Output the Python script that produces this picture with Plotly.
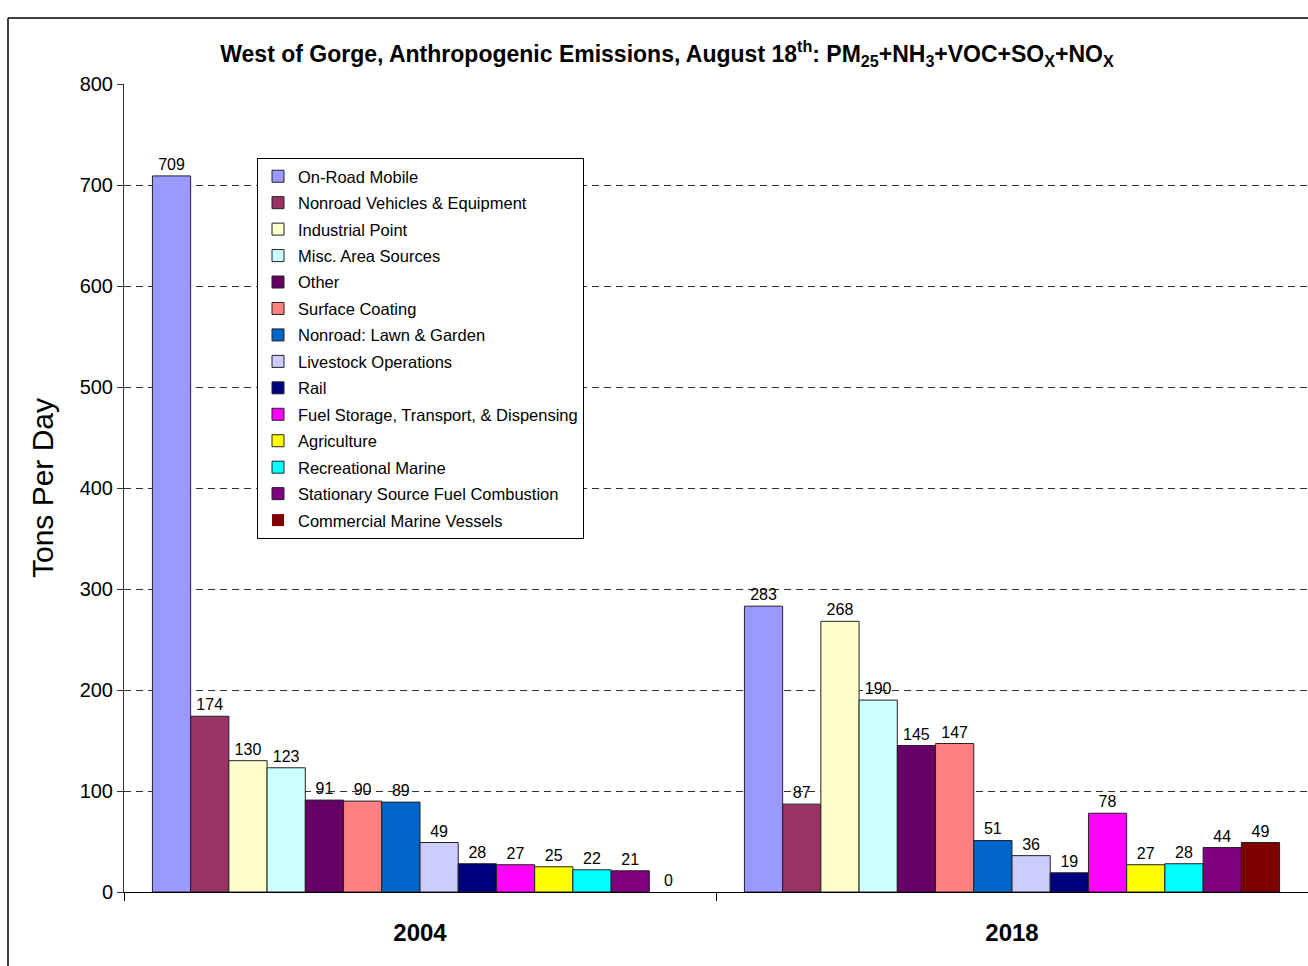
import plotly.graph_objects as go

years = ["2004", "2018"]
sources = [
    "On-Road Mobile", "Nonroad Vehicles & Equipment", "Industrial Point",
    "Misc. Area Sources", "Other", "Surface Coating", "Nonroad: Lawn & Garden",
    "Livestock Operations", "Rail", "Fuel Storage, Transport, & Dispensing",
    "Agriculture", "Recreational Marine", "Stationary Source Fuel Combustion",
    "Commercial Marine Vessels",
]
values_2004 = [709, 174, 130, 123, 91, 90, 89, 49, 28, 27, 25, 22, 21, 0]
values_2018 = [283, 87, 268, 190, 145, 147, 51, 36, 19, 78, 27, 28, 44, 49]
colors = [
    "#9999FF", "#993366", "#FFFFCC", "#CCFFFF", "#660066", "#FF8080",
    "#0066CC", "#CCCCFF", "#000080", "#FF00FF", "#FFFF00", "#00FFFF",
    "#800080", "#800000",
]
y_ticks = [0, 100, 200, 300, 400, 500, 600, 700, 800]

FONT = "Arial, Liberation Sans, sans-serif"

fig = go.Figure()
for i, name in enumerate(sources):
    vals = [values_2004[i], values_2018[i]]
    fig.add_trace(go.Bar(
        x=years, y=vals, name=name, legendgroup=name,
        marker=dict(color=colors[i],
                    line=dict(color="#222222", width=[1 if v > 0 else 0 for v in vals])),
        text=[str(v) for v in vals], textposition="outside",
        textfont=dict(family=FONT, size=16, color="black"),
        constraintext="none", cliponaxis=False,
    ))

W, H = 1308, 966
L, R, T, B = 124, 0, 84, 74
pw, ph = W - L - R, H - T - B

def px_x(p):
    return (p - L) / pw

def px_y(p):
    return (H - B - p) / ph

fig.update_layout(
    width=W, height=H,
    margin=dict(l=L, r=R, t=T, b=B),
    paper_bgcolor="white", plot_bgcolor="white",
    barmode="group", bargap=0.096, bargroupgap=0,
    font=dict(family=FONT, color="black"),
    title=dict(
        text="<b>West of Gorge, Anthropogenic Emissions, August 18<sup>th</sup>: "
             "PM<sub>25</sub>+NH<sub>3</sub>+VOC+SO<sub>X</sub>+NO<sub>X</sub></b>",
        x=667 / W, xanchor="center", xref="container",
        y=1 - 54 / H, yanchor="middle", yref="container",
        font=dict(family=FONT, size=23, color="black"),
    ),
    showlegend=True,
    legend=dict(
        x=px_x(257), xanchor="left", y=px_y(158), yanchor="top",
        bgcolor="white", bordercolor="black", borderwidth=1,
        font=dict(family=FONT, size=16.5, color="black"),
        tracegroupgap=2, traceorder="grouped",
        itemwidth=30,
    ),
    xaxis=dict(
        type="category", categoryorder="array", categoryarray=years,
        range=[-0.5, 1.5],
        showline=True, linecolor="black", linewidth=1,
        ticks="outside", tickson="boundaries", ticklen=8, tickcolor="black",
        tickfont=dict(family=FONT, size=24, color="black"),
        tickprefix="<b>", ticksuffix="</b>",
        ticklabelstandoff=19,
        showgrid=False, zeroline=False,
    ),
    yaxis=dict(
        range=[0, 800], tickvals=y_ticks,
        showline=True, linecolor="#333333", linewidth=1,
        ticks="outside", ticklen=6, tickcolor="#333333",
        tickfont=dict(family=FONT, size=20, color="black"),
        showgrid=True, gridcolor="#333333", gridwidth=1, griddash="7px,5px",
        zeroline=False,
        title=dict(text="Tons Per Day", font=dict(family=FONT, size=30, color="black"),
                   standoff=17),
    ),
    shapes=[
        dict(type="line", xref="paper", yref="paper",
             x0=px_x(8), x1=px_x(8), y0=px_y(18), y1=px_y(980),
             line=dict(color="black", width=1.5)),
        dict(type="line", xref="paper", yref="paper",
             x0=px_x(8), x1=px_x(1320), y0=px_y(18), y1=px_y(18),
             line=dict(color="black", width=1.5)),
    ],
)

fig.write_html("out.html", config={"displayModeBar": False},
               post_script="document.body.style.margin='0';")
